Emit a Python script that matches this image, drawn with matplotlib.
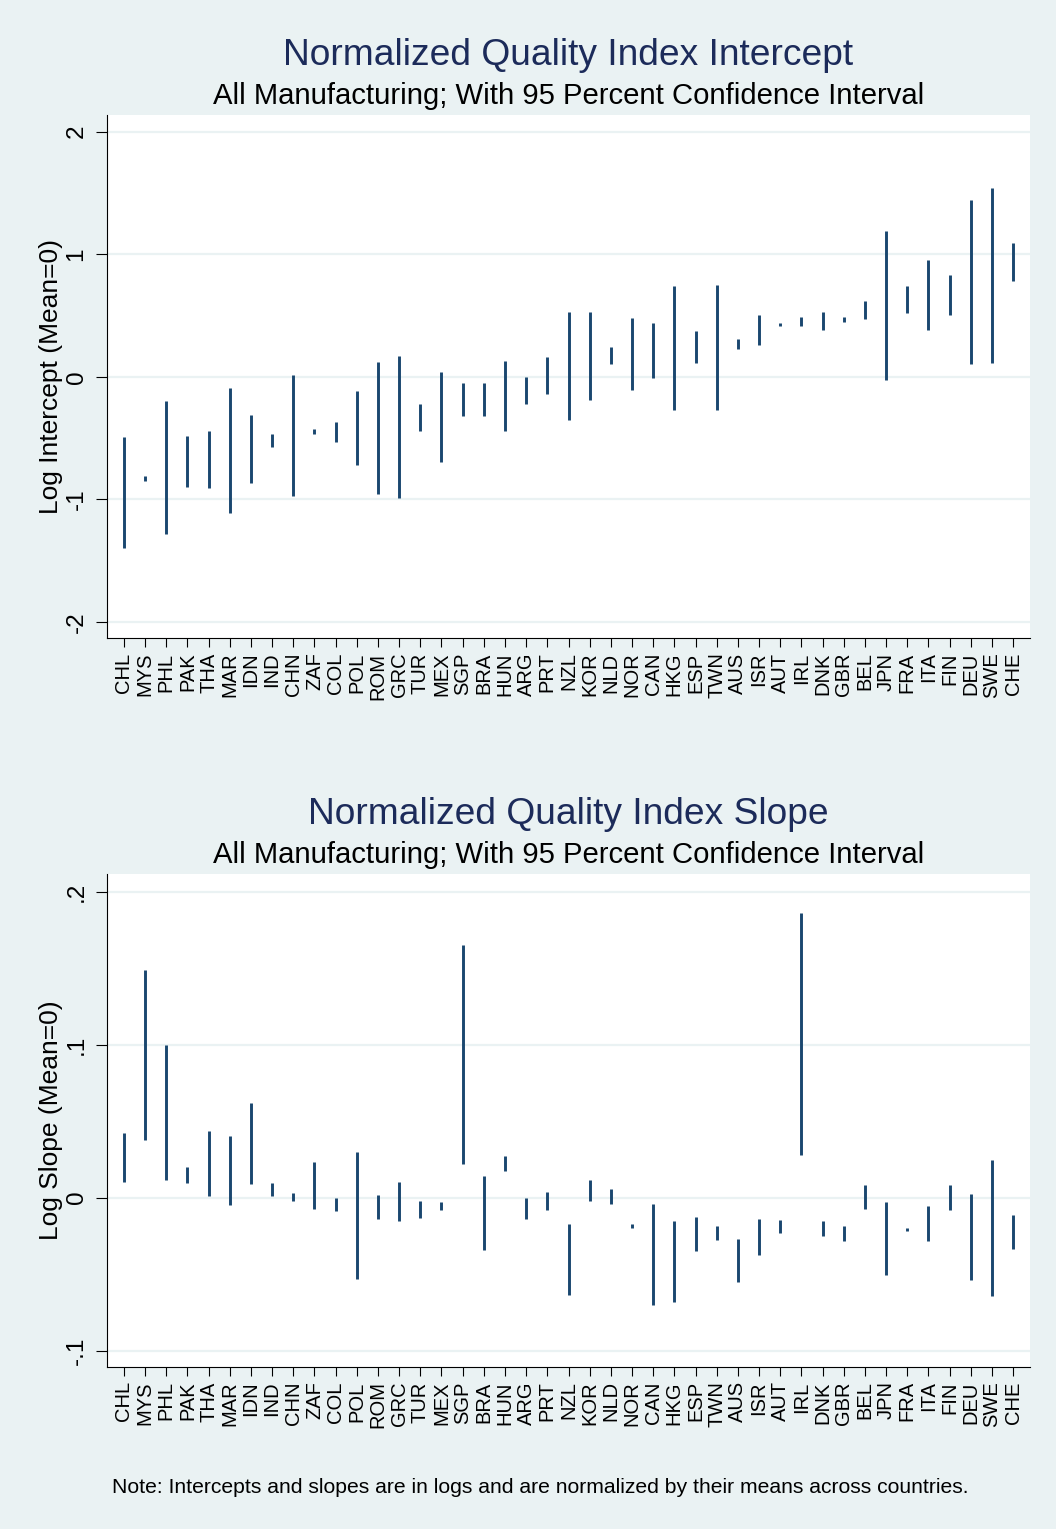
import matplotlib
matplotlib.use("Agg")
import matplotlib.pyplot as plt
import numpy as np

plt.rcParams["font.family"] = ["Liberation Sans", "DejaVu Sans"]

BG = "#EAF2F3"
NAVY = "#1a476f"
TITLE_C = "#1c2b5a"

countries = [
    "CHL", "MYS", "PHL", "PAK", "THA", "MAR", "IDN", "IND", "CHN", "ZAF", "COL",
    "POL", "ROM", "GRC", "TUR", "MEX", "SGP", "BRA", "HUN", "ARG", "PRT", "NZL",
    "KOR", "NLD", "NOR", "CAN", "HKG", "ESP", "TWN", "AUS", "ISR", "AUT", "IRL",
    "DNK", "GBR", "BEL", "JPN", "FRA", "ITA", "FIN", "DEU", "SWE", "CHE",
]

# 95% CI of log intercept (upper, lower)
intercept_hi = [
    -0.49, -0.81, -0.20, -0.48, -0.44, -0.09, -0.31, -0.47, 0.01, -0.43, -0.37,
    -0.12, 0.12, 0.17, -0.22, 0.04, -0.05, -0.05, 0.13, 0.00, 0.16, 0.53,
    0.53, 0.24, 0.48, 0.44, 0.74, 0.37, 0.75, 0.31, 0.50, 0.44, 0.49,
    0.53, 0.49, 0.62, 1.19, 0.74, 0.95, 0.83, 1.44, 1.54, 1.09,
]
intercept_lo = [
    -1.40, -0.85, -1.28, -0.90, -0.91, -1.11, -0.87, -0.57, -0.97, -0.47, -0.53,
    -0.72, -0.96, -0.99, -0.44, -0.70, -0.32, -0.32, -0.44, -0.22, -0.14, -0.35,
    -0.19, 0.10, -0.11, -0.01, -0.27, 0.11, -0.27, 0.23, 0.26, 0.41, 0.41,
    0.38, 0.45, 0.47, -0.03, 0.52, 0.38, 0.50, 0.10, 0.11, 0.78,
]

# 95% CI of log slope (upper, lower)
slope_hi = [
    0.0425, 0.149, 0.0998, 0.0199, 0.0438, 0.0405, 0.0621, 0.0096, 0.0028, 0.0233, 0.0,
    0.0297, 0.0018, 0.0105, -0.0024, -0.0028, 0.1654, 0.0144, 0.0275, 0.0, 0.0039, -0.017,
    0.0118, 0.0055, -0.0174, -0.0041, -0.0152, -0.0124, -0.0187, -0.027, -0.0137, -0.0148, 0.186,
    -0.015, -0.0183, 0.0081, -0.0026, -0.0196, -0.0054, 0.0085, 0.0022, 0.0248, -0.0111,
]
slope_lo = [
    0.0105, 0.038, 0.0116, 0.0094, 0.0009, -0.0046, 0.0092, 0.0009, -0.0022, -0.0076, -0.0087,
    -0.0531, -0.0141, -0.015, -0.0133, -0.0078, 0.022, -0.0344, 0.0175, -0.0141, -0.0082, -0.0636,
    -0.0024, -0.0039, -0.020, -0.0703, -0.0684, -0.0348, -0.0276, -0.0553, -0.0374, -0.0229, 0.0277,
    -0.025, -0.0283, -0.0072, -0.0507, -0.0218, -0.0283, -0.008, -0.0538, -0.0645, -0.0333,
]

intercept_ticks = [-2, -1, 0, 1, 2]
intercept_ticklabels = ["-2", "-1", "0", "1", "2"]
slope_ticks = [-0.1, 0, 0.1, 0.2]
slope_ticklabels = ["-.1", "0", ".1", ".2"]

W, H = 1056, 1529
fig = plt.figure(figsize=(W / 100, H / 100), dpi=100, facecolor=BG)


def fx(px):
    return px / W


def fy(py):
    return 1 - py / H


def _panel(rect, hi, lo, ticks, ticklabels, ylim, ylabel):
    ax = fig.add_axes(rect)
    ax.set_facecolor("white")
    x = np.arange(len(countries))
    ax.vlines(x, lo, hi, color=NAVY, lw=2.1, zorder=3)
    ax.set_xlim(-0.8, len(countries) - 0.2)
    ax.set_ylim(*ylim)
    ax.set_yticks(ticks)
    ax.set_yticklabels(ticklabels, rotation=90, va="center", fontsize=17.5)
    ax.set_xticks(x)
    ax.set_xticklabels(countries, rotation=90, fontsize=14.5)
    ax.tick_params(axis="y", length=8, width=0.8, pad=6)
    ax.tick_params(axis="x", length=6.5, width=0.8, pad=4)
    ax.grid(axis="y", color=BG, lw=1.6, zorder=0)
    for s in ["top", "right"]:
        ax.spines[s].set_visible(False)
    for s in ["left", "bottom"]:
        ax.spines[s].set_linewidth(0.8)
    ax.set_ylabel(ylabel, fontsize=19)
    ax.yaxis.set_label_coords((63 - 107) / 923, 0.5)
    return ax


ax1 = _panel([fx(107), fy(638), fx(1030) - fx(107), fy(114.7) - fy(638)],
             intercept_hi, intercept_lo, intercept_ticks, intercept_ticklabels,
             (-2.133, 2.139), "Log Intercept (Mean=0)")
ax2 = _panel([fx(107), fy(1366.7), fx(1030) - fx(107), fy(874) - fy(1366.7)],
             slope_hi, slope_lo, slope_ticks, slope_ticklabels,
             (-0.1105, 0.2116), "Log Slope (Mean=0)")

cx = fx(568.5)
fig.text(cx, fy(65), "Normalized Quality Index Intercept", ha="center", va="baseline",
         fontsize=26.7, color=TITLE_C)
fig.text(cx, fy(103.5), "All Manufacturing; With 95 Percent Confidence Interval",
         ha="center", va="baseline", fontsize=21.1, color="black")
fig.text(cx, fy(824.3), "Normalized Quality Index Slope", ha="center", va="baseline",
         fontsize=26.7, color=TITLE_C)
fig.text(cx, fy(863.3), "All Manufacturing; With 95 Percent Confidence Interval",
         ha="center", va="baseline", fontsize=21.1, color="black")
fig.text(fx(112), fy(1493.3),
         "Note: Intercepts and slopes are in logs and are normalized by their means across countries.",
         ha="left", va="baseline", fontsize=15.2, color="black")

fig.savefig("out.png", dpi=100, facecolor=BG)
